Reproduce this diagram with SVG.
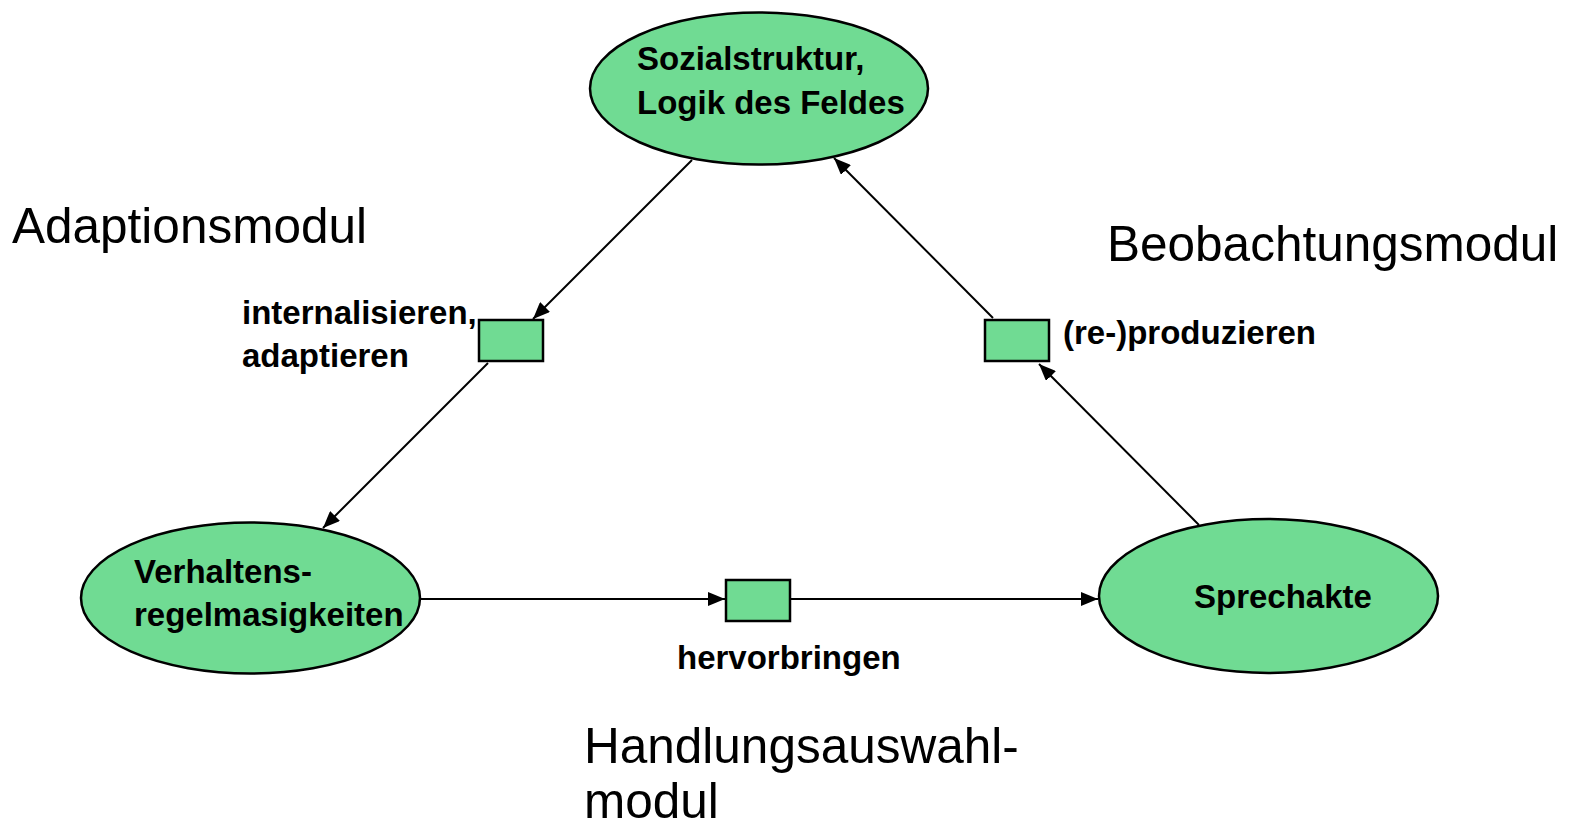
<svg xmlns="http://www.w3.org/2000/svg" width="1580" height="825" viewBox="0 0 1580 825">
<style>
.node{fill:#70DB93;stroke:#000;stroke-width:2.5}
.b{font-family:"Liberation Sans",Arial,sans-serif;font-weight:bold;font-size:33px;fill:#000}
.r{font-family:"Liberation Sans",Arial,sans-serif;font-size:49.5px;fill:#000}
.c{stroke:#000;stroke-width:2;fill:none;marker-end:url(#arr)}
</style>
<defs>
<marker id="arr" markerUnits="userSpaceOnUse" markerWidth="18" markerHeight="14" refX="17" refY="7" orient="auto">
<path d="M0,0 L17,7 L0,14 z" fill="#000"/>
</marker>
</defs>
<rect width="1580" height="825" fill="#fff"/>
<g id="connectors">
<line class="c" x1="692" y1="160" x2="533" y2="319"/>
<line class="c" x1="488" y1="363" x2="323" y2="528"/>
<line class="c" x1="420" y1="599" x2="725" y2="599"/>
<line class="c" x1="791" y1="599" x2="1098" y2="599"/>
<line class="c" x1="1199" y1="525" x2="1039" y2="364"/>
<line class="c" x1="993" y1="318" x2="834" y2="158"/>
</g>
<g id="n-sozial">
<ellipse class="node" cx="759" cy="88.5" rx="169" ry="76"/>
<text class="b" x="637" y="70">Sozialstruktur,</text>
<text class="b" x="637" y="114">Logik des Feldes</text>
</g>
<g id="n-verhalten">
<ellipse class="node" cx="250.5" cy="598" rx="169.5" ry="75.5"/>
<text class="b" x="134" y="583">Verhaltens-</text>
<text class="b" x="134" y="626">regelmasigkeiten</text>
</g>
<g id="n-sprechakte">
<ellipse class="node" cx="1268.5" cy="596" rx="169.5" ry="77"/>
<text class="b" x="1194" y="608">Sprechakte</text>
</g>
<g id="t-internalisieren">
<rect class="node" x="479" y="320" width="64" height="41"/>
<text class="b" x="242" y="324">internalisieren,</text>
<text class="b" x="242" y="367">adaptieren</text>
</g>
<g id="t-produzieren">
<rect class="node" x="985" y="320" width="64" height="41"/>
<text class="b" x="1063" y="344">(re-)produzieren</text>
</g>
<g id="t-hervorbringen">
<rect class="node" x="726" y="580" width="64" height="41"/>
<text class="b" x="677" y="669">hervorbringen</text>
</g>
<g id="labels">
<text class="r" x="12" y="243">Adaptionsmodul</text>
<text class="r" x="1107" y="261">Beobachtungsmodul</text>
<text class="r" x="584" y="763">Handlungsauswahl-</text>
<text class="r" x="584" y="818">modul</text>
</g>
</svg>
